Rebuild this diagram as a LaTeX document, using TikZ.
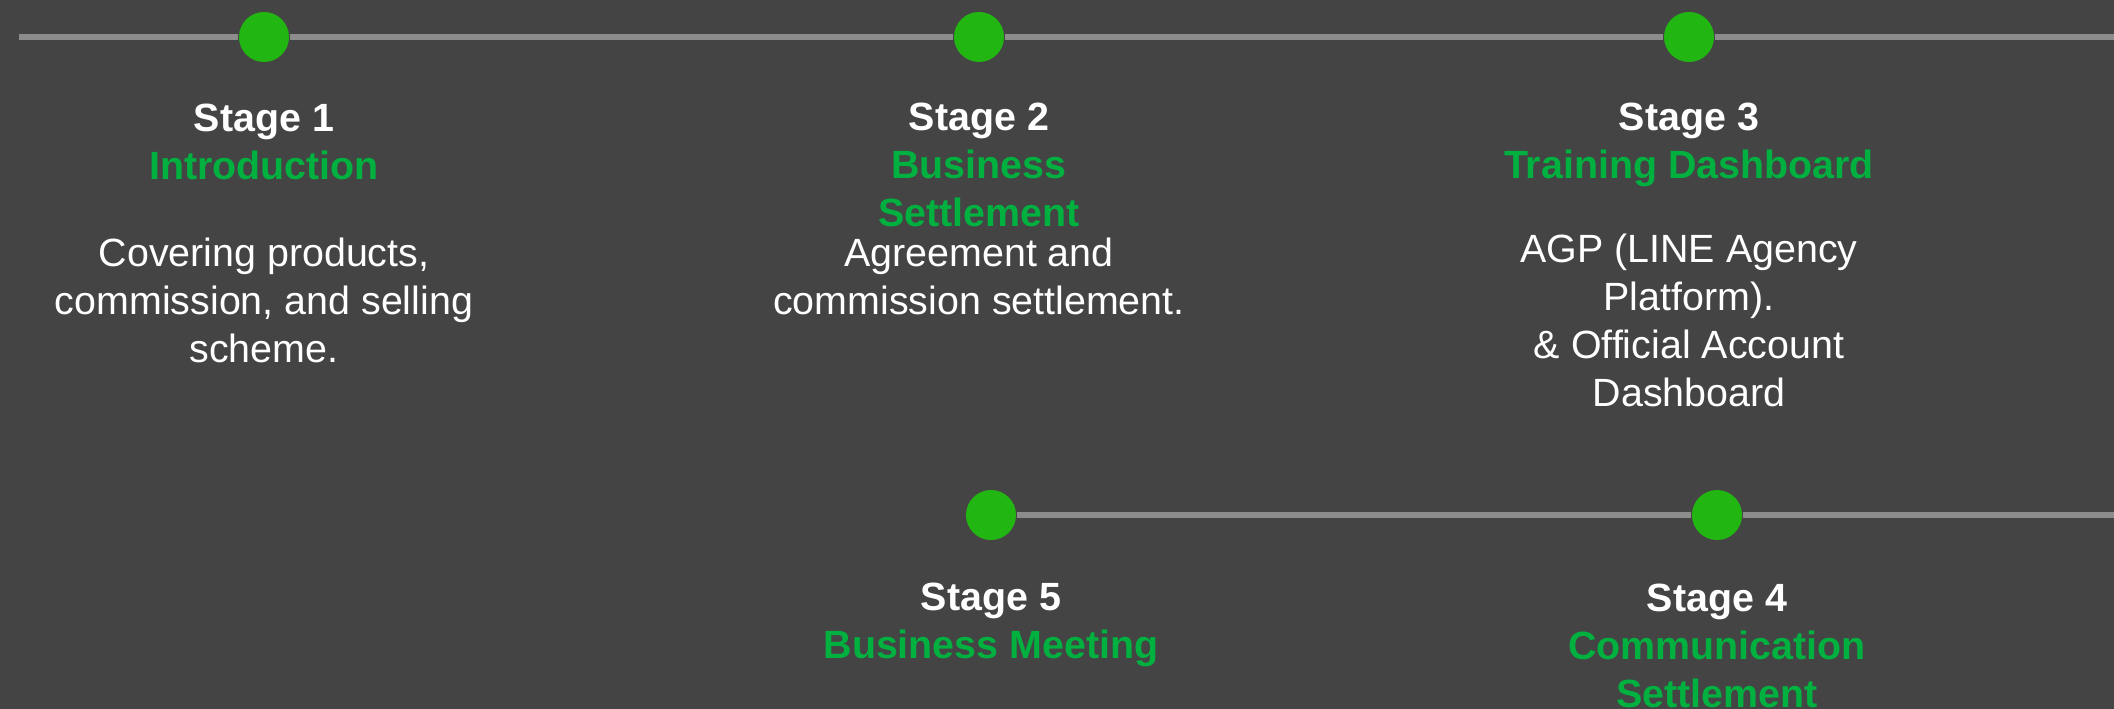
\documentclass[tikz,border=0pt]{standalone}
\usepackage{fontspec}
\setmainfont{Liberation Sans}
\usetikzlibrary{backgrounds}

\definecolor{bgcol}{HTML}{444444}
\definecolor{railcol}{HTML}{8C8C8C}
\definecolor{dotcol}{HTML}{22B612}
\definecolor{titlecol}{HTML}{00B140}

% lines stacked from the first baseline down
\newcommand{\stagetext}[1]{\begin{tabular}[t]{@{}c@{}}#1\end{tabular}}

\begin{document}
\begin{tikzpicture}[x=0.01cm, y=-0.01cm,
  dot/.style={circle, fill=dotcol, minimum size=0.5cm, inner sep=0pt},
  rail/.style={draw=railcol, line width=0.06cm},
  lines/.style={anchor=base, inner sep=0pt, text=white},
  head/.style={lines, font=\bfseries\fontsize{11.2}{13.66}\selectfont},
  body/.style={lines, font=\fontsize{11.2}{13.66}\selectfont}]

\useasboundingbox (0,0) rectangle (2114,709);
\begin{scope}[on background layer]
\fill[bgcol] (0,0) rectangle (2114,709);
\end{scope}

\coordinate (L) at (19,37);
\coordinate (R) at (2114,37);
\coordinate (R2) at (2114,515);

% stages
\node[dot] (A) at (264,37) {};
\node[dot] (B) at (979,37) {};
\node[dot] (C) at (1689,37) {};
\node[dot] (D) at (1717,515) {};
\node[dot] (E) at (991,515) {};

\begin{scope}[on background layer]
\draw[rail] (L) -- (A) -- (B) -- (C) -- (R);
\draw[rail] (E) -- (D) -- (R2);
\end{scope}

\node[head] (A1) at (264,131) {\stagetext{Stage 1\\\textcolor{titlecol}{Introduction}}};
\node[body] (A2) at (264,266) {\stagetext{Covering products,\\commission, and selling\\scheme.}};

\node[head] (B1) at (979,130) {\stagetext{Stage 2\\\textcolor{titlecol}{Business}\\\textcolor{titlecol}{Settlement}}};
\node[body] (B2) at (979,266) {\stagetext{Agreement and\\commission settlement.}};

\node[head] (C1) at (1689,130) {\stagetext{Stage 3\\\textcolor{titlecol}{Training Dashboard}}};
\node[body] (C2) at (1689,262) {\stagetext{AGP (LINE Agency\\Platform).\\\& Official Account\\Dashboard}};

\node[head] (D1) at (1717,611) {\stagetext{Stage 4\\\textcolor{titlecol}{Communication}\\\textcolor{titlecol}{Settlement}}};

\node[head] (E1) at (991,610) {\stagetext{Stage 5\\\textcolor{titlecol}{Business Meeting}}};

\end{tikzpicture}
\end{document}
